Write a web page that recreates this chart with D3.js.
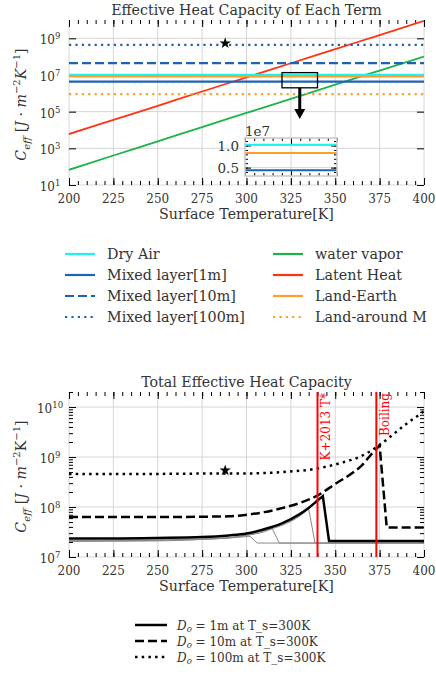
<!DOCTYPE html>
<html>
<head>
<meta charset="utf-8">
<script src="https://cdn.jsdelivr.net/npm/d3@7"></script>
<style>
  body { margin: 0; background: #fff; }
  text { font-family: "DejaVu Serif", serif; fill: #333; }
</style>
</head>
<body>
<script>
// ---------- data ----------
const tempGrid = [200, 225, 250, 275, 300, 325, 350, 375, 400];
const xMajor = [200, 225, 250, 275, 300, 325, 350, 375, 400];
const waterVapor = [67.6, 407, 2400, 14500, 85100, 5.0e5, 3.0e6, 1.74e7, 1.0e8];
const latentHeat = [6030, 35500, 2.09e5, 1.26e6, 7.4e6, 4.37e7, 2.57e8, 1.51e9, 8.9e9];

const flatNames = ["Dry Air", "Mixed layer[1m]", "Mixed layer[10m]", "Mixed layer[100m]", "Land-Earth", "Land-around M"];
const flatValues = [1.02e7, 4.4e6, 4.4e7, 4.4e8, 8.3e6, 9.0e5];

const legendCol1 = ["Dry Air", "Mixed layer[1m]", "Mixed layer[10m]", "Mixed layer[100m]"];
const legendCol2 = ["water vapor", "Latent Heat", "Land-Earth", "Land-around M"];

const starPoint = [288, 5.4e8];
const zoomBox = [320, 340, 2.0e6, 1.35e7];
const insetRange = [300, 350, 0.31e7, 1.17e7];
const arrowTip = 4e4;

// total effective heat capacity, [T, C]
const total1m = [[200, 2.35e7], [225, 2.35e7], [250, 2.4e7], [275, 2.5e7], [290, 2.7e7], [300, 2.95e7],
  [310, 3.6e7], [320, 4.7e7], [330, 7.2e7], [335, 9.6e7], [340, 1.35e8], [343, 1.65e8], [346.5, 2.1e7], [400, 2.1e7]];
const total10m = [[200, 6.3e7], [250, 6.3e7], [275, 6.4e7], [290, 6.5e7], [300, 7.0e7], [310, 7.9e7], [320, 9.5e7],
  [330, 1.2e8], [340, 1.7e8], [350, 2.9e8], [360, 4.9e8], [365, 6.8e8], [370, 1.1e9], [375, 1.7e9], [379, 3.9e7], [400, 3.9e7]];
const total100m = [[200, 4.6e8], [250, 4.6e8], [290, 4.7e8], [300, 4.7e8], [320, 5.0e8], [340, 5.9e8], [353, 7.6e8],
  [364, 1.02e9], [373, 1.55e9], [383, 2.9e9], [390, 4.6e9], [397, 6.9e9], [400, 8.3e9]];
const thinA = [[200, 2.15e7], [250, 2.2e7], [275, 2.3e7], [290, 2.4e7], [302, 2.6e7], [306, 1.9e7], [400, 1.9e7]];
const thinB = [[200, 2.1e7], [250, 2.15e7], [275, 2.25e7], [290, 2.4e7], [300, 2.7e7], [310, 3.2e7], [314.5, 3.7e7], [318.5, 1.9e7], [400, 1.9e7]];
const thinC = [[200, 2.05e7], [250, 2.1e7], [275, 2.25e7], [290, 2.45e7], [300, 2.75e7], [310, 3.35e7], [320, 4.3e7],
  [330, 6.6e7], [335, 9.3e7], [338.6, 1.9e7], [400, 1.9e7]];

const markTemps = [340, 373.15];
const markLabels = ["K+2013 T*", "Boiling"];
const bottomLegend = ["1m", "10m", "100m"];

// ---------- styles ----------
const style = {
  "Dry Air": { color: "#1ff0f0", dash: null },
  "Mixed layer[1m]": { color: "#1d62b4", dash: null },
  "Mixed layer[10m]": { color: "#1d62b4", dash: "9,4" },
  "Mixed layer[100m]": { color: "#1d62b4", dash: "2.2,4.2" },
  "water vapor": { color: "#1db34a", dash: null },
  "Latent Heat": { color: "#ff3311", dash: null },
  "Land-Earth": { color: "#ff9c2a", dash: null },
  "Land-around M": { color: "#ff9c2a", dash: "2.2,4.2" }
};

const W = 436, H = 683;
const pw = 355, ph = 165;
const svg = d3.select("body").append("svg").attr("width", W).attr("height", H);

const x = d3.scaleLinear().domain([200, 400]).range([0, pw]);
const y1 = d3.scaleLog().domain([1e1, 1e10]).range([ph, 0]);
const y2 = d3.scaleLog().domain([1e7, 2e10]).range([ph, 0]);

const xMinor = d3.range(200, 401, 5);

function ticks(g, axisFn, scale, values, size, tr) {
  g.append("g").attr("transform", tr)
    .call(axisFn(scale).tickValues(values).tickSize(-size).tickFormat(""))
    .call(a => a.select(".domain").remove())
    .selectAll("line").attr("stroke", "#000").attr("stroke-width", 1);
}

function drawFrame(g, yScale, yMajor, yMinor, clipId) {
  g.append("rect").attr("width", pw).attr("height", ph).attr("fill", "#fff");
  g.append("g").selectAll("line").data(xMajor).join("line")
    .attr("x1", d => x(d)).attr("x2", d => x(d)).attr("y1", 0).attr("y2", ph)
    .attr("stroke", "#d6d6d6").attr("stroke-width", 1);
  g.append("g").selectAll("line").data(yMajor).join("line")
    .attr("y1", d => yScale(d)).attr("y2", d => yScale(d)).attr("x1", 0).attr("x2", pw)
    .attr("stroke", "#d6d6d6").attr("stroke-width", 1);

  ticks(g, d3.axisBottom, x, xMinor, 4, `translate(0,${ph})`);
  ticks(g, d3.axisBottom, x, xMajor, 7, `translate(0,${ph})`);
  ticks(g, d3.axisTop, x, xMinor, 4, "translate(0,0)");
  ticks(g, d3.axisTop, x, xMajor, 7, "translate(0,0)");
  ticks(g, d3.axisLeft, yScale, yMinor, 4, "translate(0,0)");
  ticks(g, d3.axisLeft, yScale, yMajor, 7, "translate(0,0)");
  ticks(g, d3.axisRight, yScale, yMinor, 4, `translate(${pw},0)`);
  ticks(g, d3.axisRight, yScale, yMajor, 7, `translate(${pw},0)`);

  g.append("g").selectAll("text").data(xMajor).join("text")
    .attr("x", d => x(d)).attr("y", ph + 18).attr("text-anchor", "middle")
    .attr("font-size", 12).text(d => d);

  const yl = g.append("g").selectAll("text").data(yMajor).join("text")
    .attr("x", -19).attr("y", d => yScale(d) + 6).attr("text-anchor", "middle")
    .attr("font-size", 12);
  yl.append("tspan").text("10");
  yl.append("tspan").attr("dy", -5).attr("font-size", 8.5).text(d => Math.round(Math.log10(d)));

  g.append("defs").append("clipPath").attr("id", clipId)
    .append("rect").attr("width", pw).attr("height", ph);
}

function yLabel(g, kItalic) {
  const t = g.append("text")
    .attr("transform", `translate(-43,${ph / 2 + 2}) rotate(-90)`)
    .attr("text-anchor", "middle").attr("font-size", 14.2);
  t.append("tspan").attr("font-style", "italic").text("C");
  t.append("tspan").attr("font-style", "italic").attr("font-size", 10).attr("dy", 3.5).text("eff");
  t.append("tspan").attr("dy", -3.5).text(" [");
  t.append("tspan").attr("font-style", "italic").text("J");
  t.append("tspan").text(" · ");
  t.append("tspan").attr("font-style", "italic").text("m");
  t.append("tspan").attr("font-size", 10).attr("dy", -6).text("−2");
  t.append("tspan").attr("font-style", kItalic ? "italic" : "normal").attr("dy", 6).text("K");
  t.append("tspan").attr("font-size", 10).attr("dy", -6).text("−1");
  t.append("tspan").attr("dy", 6).text("]");
}

function titleAndX(g, title) {
  g.append("text").attr("x", pw / 2).attr("y", -5).attr("text-anchor", "middle")
    .attr("font-size", 14.2).text(title);
  g.append("text").attr("x", pw / 2).attr("y", ph + 34).attr("text-anchor", "middle")
    .attr("font-size", 14.2).text("Surface Temperature[K]");
}

// ---------- top chart ----------
const g1 = svg.append("g").attr("transform", "translate(69,20)");
drawFrame(g1, y1, [1e1, 1e3, 1e5, 1e7, 1e9], [], "clip1");
titleAndX(g1, "Effective Heat Capacity of Each Term");
yLabel(g1, true);

const lines1 = g1.append("g").attr("clip-path", "url(#clip1)");
const line1 = d3.line().x((d, i) => x(tempGrid[i])).y(d => y1(d)).curve(d3.curveMonotoneX);

lines1.append("path").attr("d", line1(waterVapor)).attr("fill", "none")
  .attr("stroke", style["water vapor"].color).attr("stroke-width", 1.8);
lines1.append("path").attr("d", line1(latentHeat)).attr("fill", "none")
  .attr("stroke", style["Latent Heat"].color).attr("stroke-width", 1.8);
lines1.selectAll(".flat").data(flatNames).join("line").attr("class", "flat")
  .attr("x1", 0).attr("x2", pw)
  .attr("y1", (d, i) => y1(flatValues[i])).attr("y2", (d, i) => y1(flatValues[i]))
  .attr("stroke", d => style[d].color).attr("stroke-width", 2.2)
  .attr("stroke-dasharray", d => style[d].dash);

g1.append("path").attr("d", d3.symbol(d3.symbolStar, 40)())
  .attr("transform", `translate(${x(starPoint[0])},${y1(starPoint[1])})`).attr("fill", "#000");

// zoom box and arrow
g1.append("rect").attr("x", x(zoomBox[0])).attr("width", x(zoomBox[1]) - x(zoomBox[0]))
  .attr("y", y1(zoomBox[3])).attr("height", y1(zoomBox[2]) - y1(zoomBox[3]))
  .attr("fill", "none").attr("stroke", "#000").attr("stroke-width", 1.3);
const ax = x((zoomBox[0] + zoomBox[1]) / 2), ay0 = y1(zoomBox[2]), ay1 = y1(arrowTip);
g1.append("line").attr("x1", ax).attr("x2", ax).attr("y1", ay0).attr("y2", ay1 - 9)
  .attr("stroke", "#000").attr("stroke-width", 3);
g1.append("path").attr("d", `M${ax - 5.5},${ay1 - 10}L${ax + 5.5},${ay1 - 10}L${ax},${ay1}Z`).attr("fill", "#000");

// inset
const iw = 92, ih = 38;
const ix = d3.scaleLinear().domain([insetRange[0], insetRange[1]]).range([0, iw]);
const iy = d3.scaleLinear().domain([insetRange[2], insetRange[3]]).range([ih, 0]);
const gi = svg.append("g").attr("transform", "translate(245,138)");
gi.append("rect").attr("width", iw).attr("height", ih).attr("fill", "#fff");
gi.append("line").attr("x1", ix(325)).attr("x2", ix(325)).attr("y1", 0).attr("y2", ih).attr("stroke", "#d6d6d6");
gi.selectAll(".ig").data([0.5e7, 1.0e7]).join("line").attr("class", "ig")
  .attr("x1", 0).attr("x2", iw).attr("y1", d => iy(d)).attr("y2", d => iy(d)).attr("stroke", "#d6d6d6");
const iMinorY = d3.range(4, 12).map(v => v * 1e6);
const iMinorX = d3.range(300, 351, 5);
ticks(gi, d3.axisBottom, ix, iMinorX, 3, `translate(0,${ih})`);
ticks(gi, d3.axisBottom, ix, [325], 6, `translate(0,${ih})`);
ticks(gi, d3.axisTop, ix, iMinorX, 3, "translate(0,0)");
ticks(gi, d3.axisTop, ix, [325], 6, "translate(0,0)");
ticks(gi, d3.axisLeft, iy, iMinorY, 3, "translate(0,0)");
ticks(gi, d3.axisLeft, iy, [0.5e7, 1.0e7], 6, "translate(0,0)");
ticks(gi, d3.axisRight, iy, iMinorY, 3, `translate(${iw},0)`);
ticks(gi, d3.axisRight, iy, [0.5e7, 1.0e7], 6, `translate(${iw},0)`);
gi.selectAll(".il").data(flatNames.filter((d, i) => flatValues[i] > insetRange[2] && flatValues[i] < insetRange[3]))
  .join("line").attr("class", "il")
  .attr("x1", 0).attr("x2", iw)
  .attr("y1", d => iy(flatValues[flatNames.indexOf(d)])).attr("y2", d => iy(flatValues[flatNames.indexOf(d)]))
  .attr("stroke", d => style[d].color).attr("stroke-width", 2);
gi.append("rect").attr("width", iw).attr("height", ih).attr("fill", "none")
  .attr("stroke", "#c8c8c8").attr("stroke-width", 1.5);
gi.selectAll(".iyl").data([0.5e7, 1.0e7]).join("text").attr("class", "iyl")
  .attr("x", -6).attr("y", d => iy(d) + 5).attr("text-anchor", "end").attr("font-size", 13.5)
  .text(d => (d / 1e7).toFixed(1));
gi.append("text").attr("x", 0).attr("y", -2).attr("font-size", 13.5).text("1e7");

// top legend
const leg1 = svg.append("g");
[legendCol1, legendCol2].forEach((col, c) => {
  const gx = c === 0 ? 65 : 273;
  col.forEach((name, r) => {
    const yy = 254 + r * 21;
    leg1.append("line").attr("x1", gx).attr("x2", gx + 30).attr("y1", yy).attr("y2", yy)
      .attr("stroke", style[name].color).attr("stroke-width", 2.2)
      .attr("stroke-dasharray", style[name].dash);
    leg1.append("text").attr("x", gx + 42).attr("y", yy + 5).attr("font-size", 14.3).text(name);
  });
});

// ---------- bottom chart ----------
const y2Minor = [];
[1e7, 1e8, 1e9, 1e10].forEach(b => d3.range(2, 10).forEach(k => { if (k * b <= 2e10) y2Minor.push(k * b); }));
const g2 = svg.append("g").attr("transform", "translate(69,392)");
drawFrame(g2, y2, [1e7, 1e8, 1e9, 1e10], y2Minor, "clip2");
titleAndX(g2, "Total Effective Heat Capacity");
yLabel(g2, false);

const lines2 = g2.append("g").attr("clip-path", "url(#clip2)");
const smooth2 = d3.line().x(d => x(d[0])).y(d => y2(d[1])).curve(d3.curveMonotoneX);
const straight2 = d3.line().x(d => x(d[0])).y(d => y2(d[1]));
// smooth rise up to the peak, straight drop after it
function seriesPath(s) {
  const k = d3.maxIndex(s, d => d[1]);
  return smooth2(s.slice(0, k + 1)) + (k < s.length - 1 ? straight2(s.slice(k)).replace(/^M/, "L") : "");
}
[thinA, thinB, thinC].forEach(s => {
  lines2.append("path").attr("d", seriesPath(s)).attr("fill", "none")
    .attr("stroke", "#888").attr("stroke-width", 1);
});
lines2.append("path").attr("d", seriesPath(total100m)).attr("fill", "none")
  .attr("stroke", "#000").attr("stroke-width", 2.5).attr("stroke-dasharray", "2.5,4.2");
lines2.append("path").attr("d", seriesPath(total10m)).attr("fill", "none")
  .attr("stroke", "#000").attr("stroke-width", 2.5).attr("stroke-dasharray", "9,4");
lines2.append("path").attr("d", seriesPath(total1m)).attr("fill", "none")
  .attr("stroke", "#000").attr("stroke-width", 2.5);

markTemps.forEach((t, i) => {
  g2.append("line").attr("x1", x(t)).attr("x2", x(t)).attr("y1", 0).attr("y2", ph)
    .attr("stroke", "#ff0000").attr("stroke-width", 2);
  g2.append("text").attr("transform", `translate(${x(t) + 12.5},1) rotate(-90)`)
    .attr("text-anchor", "end").attr("font-size", 12).style("fill", "#ff0000").text(markLabels[i]);
});

g2.append("path").attr("d", d3.symbol(d3.symbolStar, 40)())
  .attr("transform", `translate(${x(starPoint[0])},${y2(starPoint[1])})`).attr("fill", "#000");

// bottom legend
const dashes2 = [null, "9,4", "2.5,4.2"];
bottomLegend.forEach((d, i) => {
  const yy = 625 + i * 16;
  svg.append("line").attr("x1", 135).attr("x2", 167).attr("y1", yy).attr("y2", yy)
    .attr("stroke", "#000").attr("stroke-width", 2.5).attr("stroke-dasharray", dashes2[i]);
  const t = svg.append("text").attr("x", 177).attr("y", yy + 4.5).attr("font-size", 12);
  t.append("tspan").attr("font-style", "italic").text("D");
  t.append("tspan").attr("font-style", "italic").attr("font-size", 8.5).attr("dy", 2.5).text("o");
  t.append("tspan").attr("dy", -2.5).text(` = ${d} at T_s=300K`);
});
</script>
</body>
</html>
